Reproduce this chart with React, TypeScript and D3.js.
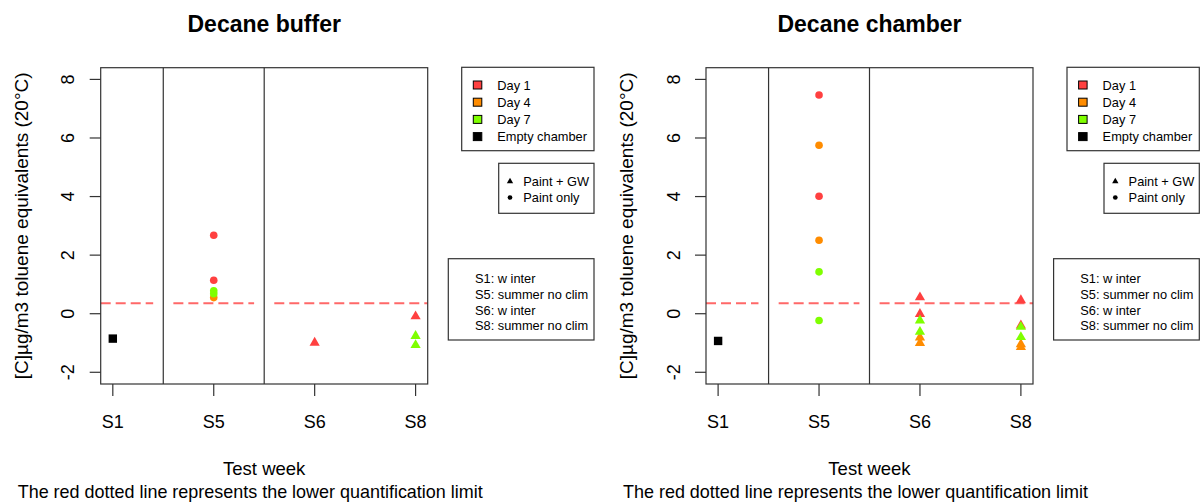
import React from "react";
import * as d3 from "d3";

const weeks = ["S1", "S5", "S6", "S8"];
const dayLabels = ["Day 1", "Day 4", "Day 7", "Empty chamber"];
const dayColors = ["#FF4040", "#FF8C00", "#7FFF00", "#000000"];
const treatmentLabels = ["Paint + GW", "Paint only"];
const weekNotes = ["S1: w inter", "S5: summer no clim", "S6: w inter", "S8: summer no clim"];
const yTicks = [-2, 0, 2, 4, 6, 8];
const quantLimit = 0.36;
const limitSegments = [[0.88, 1.4], [1.6, 2.4], [2.6, 4.12]];
const separators = [1.5, 2.5];

// group: 0 = day 1, 1 = day 4, 2 = day 7, 3 = empty chamber
// kind: "gw" = paint + GW (triangle), "paint" = paint only (circle), "empty" (square)
const bufferPoints = [
  { week: "S1", group: 3, kind: "empty", value: -0.85 },
  { week: "S5", group: 0, kind: "paint", value: 2.68 },
  { week: "S5", group: 0, kind: "paint", value: 1.14 },
  { week: "S5", group: 1, kind: "paint", value: 0.55 },
  { week: "S5", group: 2, kind: "paint", value: 0.78 },
  { week: "S5", group: 2, kind: "paint", value: 0.68 },
  { week: "S6", group: 0, kind: "gw", value: -0.99 },
  { week: "S8", group: 0, kind: "gw", value: -0.09 },
  { week: "S8", group: 2, kind: "gw", value: -0.76 },
  { week: "S8", group: 2, kind: "gw", value: -1.07 },
];

const chamberPoints = [
  { week: "S1", group: 3, kind: "empty", value: -0.93 },
  { week: "S5", group: 0, kind: "paint", value: 7.47 },
  { week: "S5", group: 0, kind: "paint", value: 4.01 },
  { week: "S5", group: 1, kind: "paint", value: 5.75 },
  { week: "S5", group: 1, kind: "paint", value: 2.51 },
  { week: "S5", group: 2, kind: "paint", value: 1.43 },
  { week: "S5", group: 2, kind: "paint", value: -0.23 },
  { week: "S6", group: 0, kind: "gw", value: 0.56 },
  { week: "S6", group: 0, kind: "gw", value: -0.01 },
  { week: "S6", group: 1, kind: "gw", value: -0.81 },
  { week: "S6", group: 1, kind: "gw", value: -1.0 },
  { week: "S6", group: 2, kind: "gw", value: -0.23 },
  { week: "S6", group: 2, kind: "gw", value: -0.62 },
  { week: "S8", group: 0, kind: "gw", value: 0.46 },
  { week: "S8", group: 0, kind: "gw", value: -0.4 },
  { week: "S8", group: 1, kind: "gw", value: -1.04 },
  { week: "S8", group: 1, kind: "gw", value: -1.14 },
  { week: "S8", group: 2, kind: "gw", value: -0.45 },
  { week: "S8", group: 2, kind: "gw", value: -0.8 },
];

const FONT = "'Liberation Sans', Arial, Helvetica, sans-serif";
const LINE = "#333";

// R style filled triangle (pch 17) centred on the point
const tri = (xc: number) =>
  `M0,${-1.555 * xc}L${1.347 * xc},${0.778 * xc}L${-1.347 * xc},${0.778 * xc}Z`;

const Marker = ({ kind, color, size = 1 }) => {
  if (kind === "gw") return <path d={tri(3.8 * size)} fill={color} />;
  if (kind === "paint") return <circle r={3.8 * size} fill={color} />;
  return <rect x={-4.2 * size} y={-4.2 * size} width={8.4 * size} height={8.4 * size} fill={color} />;
};

const Panel = ({ title, points, dx }) => {
  const left = 100.7 + dx;
  const right = 427.7 + dx;
  const top = 67.7;
  const bottom = 384;
  const x = d3.scaleLinear().domain([0.88, 4.12]).range([left, right]);
  const y = d3.scaleLinear().domain([-2.4, 8.4]).range([bottom, top]);
  const cx = (left + right) / 2;
  const wx = (w: string) => x(weeks.indexOf(w) + 1);

  return (
    <g fontFamily={FONT}>
      <text x={cx} y={31.7} textAnchor="middle" fontSize={23} fontWeight="bold">
        {title}
      </text>

      {/* quantification limit */}
      {limitSegments.map(([a, b], i) => (
        <line
          key={i}
          x1={x(a)}
          x2={x(b)}
          y1={y(quantLimit)}
          y2={y(quantLimit)}
          stroke="#FF6868"
          strokeWidth={2}
          strokeDasharray="10,5"
        />
      ))}

      {separators.map((s) => (
        <line key={s} x1={x(s)} x2={x(s)} y1={top} y2={bottom} stroke={LINE} strokeWidth={1.2} />
      ))}

      {points.map((p, i) => (
        <g key={i} transform={`translate(${wx(p.week)},${y(p.value)})`}>
          <Marker kind={p.kind} color={dayColors[p.group]} />
        </g>
      ))}

      <rect x={left} y={top} width={right - left} height={bottom - top} fill="none" stroke={LINE} strokeWidth={1.2} />

      {/* y axis */}
      {yTicks.map((t) => (
        <g key={t}>
          <line x1={left - 11} x2={left} y1={y(t)} y2={y(t)} stroke={LINE} strokeWidth={1.2} />
          <text
            transform={`translate(${left - 26.5},${y(t)}) rotate(-90)`}
            textAnchor="middle"
            fontSize={18}
          >
            {t}
          </text>
        </g>
      ))}
      <text
        transform={`translate(${dx + 28},${(top + bottom) / 2}) rotate(-90)`}
        textAnchor="middle"
        fontSize={19}
      >
        [C]µg/m3 toluene equivalents (20°C)
      </text>

      {/* x axis */}
      {weeks.map((w) => (
        <g key={w}>
          <line x1={wx(w)} x2={wx(w)} y1={bottom} y2={bottom + 12} stroke={LINE} strokeWidth={1.2} />
          <text x={wx(w)} y={428} textAnchor="middle" fontSize={18}>
            {w}
          </text>
        </g>
      ))}
      <text x={cx} y={475} textAnchor="middle" fontSize={18.5}>
        Test week
      </text>
      <text x={cx - 14} y={498} textAnchor="middle" fontSize={18.5} textLength={465} lengthAdjust="spacingAndGlyphs">
        The red dotted line represents the lower quantification limit
      </text>

      {/* legend: days */}
      <rect x={461.7 + dx} y={67.3} width={132.3} height={83.4} fill="white" stroke={LINE} strokeWidth={1.2} />
      {dayLabels.map((d, i) => (
        <g key={d}>
          <rect x={473.3 + dx} y={81 + i * 17.2} width={8.5} height={8} fill={dayColors[i]} stroke="#000" strokeWidth={1} />
          <text x={497.3 + dx} y={89.8 + i * 17.2} fontSize={12.8}>
            {d}
          </text>
        </g>
      ))}

      {/* legend: treatment */}
      <rect x={498.7 + dx} y={163.3} width={95.3} height={50} fill="white" stroke={LINE} strokeWidth={1.2} />
      {treatmentLabels.map((t, i) => (
        <g key={t}>
          <g transform={`translate(${510 + dx},${181.5 + i * 16})`}>
            <Marker kind={i === 0 ? "gw" : "paint"} color="#000" size={0.62} />
          </g>
          <text x={523.3 + dx} y={185.8 + i * 16} fontSize={12.8}>
            {t}
          </text>
        </g>
      ))}

      {/* legend: week notes */}
      <rect x={448.3 + dx} y={258.7} width={145.7} height={81.3} fill="white" stroke={LINE} strokeWidth={1.2} />
      {weekNotes.map((n, i) => (
        <text key={n + i} x={475 + dx} y={283 + i * 15.8} fontSize={12.8}>
          {n}
        </text>
      ))}
    </g>
  );
};

export default function App() {
  return (
    <svg
      width={1202}
      height={504}
      style={{ position: "absolute", left: 0, top: 0, background: "white" }}
    >
      <rect width={1202} height={504} fill="white" />
      <Panel title="Decane buffer" points={bufferPoints} dx={0} />
      <Panel title="Decane chamber" points={chamberPoints} dx={605.3} />
    </svg>
  );
}
